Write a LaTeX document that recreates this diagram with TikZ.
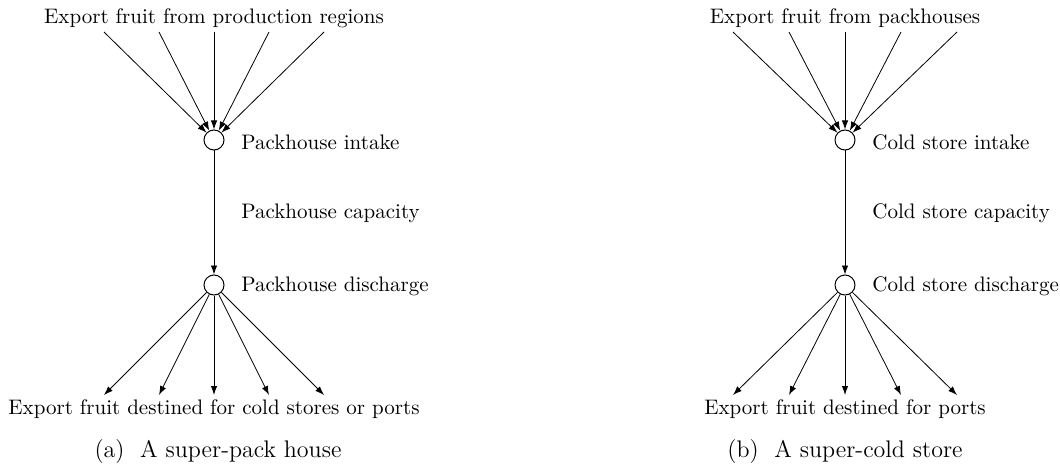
\documentclass[tikz,border=0pt]{standalone}
\usetikzlibrary{arrows.meta}
\begin{document}
\begin{tikzpicture}[x=0.5pt,y=-0.5pt,
  hub/.style={circle,draw,inner sep=0pt,minimum size=10pt,line width=0.5pt},
  flow/.style={-{Latex[length=4.5pt,width=3.2pt]},line width=0.4pt},
  lab/.style={anchor=west,inner sep=0pt,font=\fontsize{10.5}{12}\selectfont},
  txt/.style={inner sep=0pt,font=\fontsize{10.5}{12}\selectfont},
  capt/.style={inner sep=0pt,font=\fontsize{12}{14}\selectfont}]
\useasboundingbox (0,0) rectangle (1060,465);
% ---- (a)
\node[txt] (atop) at (214,18) {Export fruit from production regions};
\node[hub] (ain) at (214,140) {};
\node[hub] (aout) at (214,285) {};
\node[lab] (ainl) at (241,142) {Packhouse intake};
\node[lab] (acap) at (241,213) {Packhouse capacity};
\node[lab] (aoutl) at (241,286) {Packhouse discharge};
\node[txt] (abot) at (214,409) {Export fruit destined for cold stores or ports};
\node[capt] (acap2) at (218,452) {(a)\ \ A super-pack house};
\foreach \i/\dx in {1/-110,2/-55,3/0,4/55,5/110}{
  \coordinate (at\i) at (214+\dx,32);
  \coordinate (ab\i) at (214+\dx,395);
  \draw[flow] (at\i) -- (ain);
  \draw[flow] (aout) -- (ab\i);
}
\draw[flow] (ain) -- (aout);
% ---- (b)
\node[txt] (btop) at (845,18) {Export fruit from packhouses};
\node[hub] (bin) at (845,140) {};
\node[hub] (bout) at (845,285) {};
\node[lab] (binl) at (872,142) {Cold store intake};
\node[lab] (bcap) at (872,213) {Cold store capacity};
\node[lab] (boutl) at (872,286) {Cold store discharge};
\node[txt] (bbot) at (845,409) {Export fruit destined for ports};
\node[capt] (bcap2) at (845,452) {(b)\ \ A super-cold store};
\foreach \i/\dx in {1/-112,2/-56,3/0,4/56,5/112}{
  \coordinate (bt\i) at (845+\dx,32);
  \coordinate (bb\i) at (845+\dx,395);
  \draw[flow] (bt\i) -- (bin);
  \draw[flow] (bout) -- (bb\i);
}
\draw[flow] (bin) -- (bout);
\end{tikzpicture}
\end{document}
